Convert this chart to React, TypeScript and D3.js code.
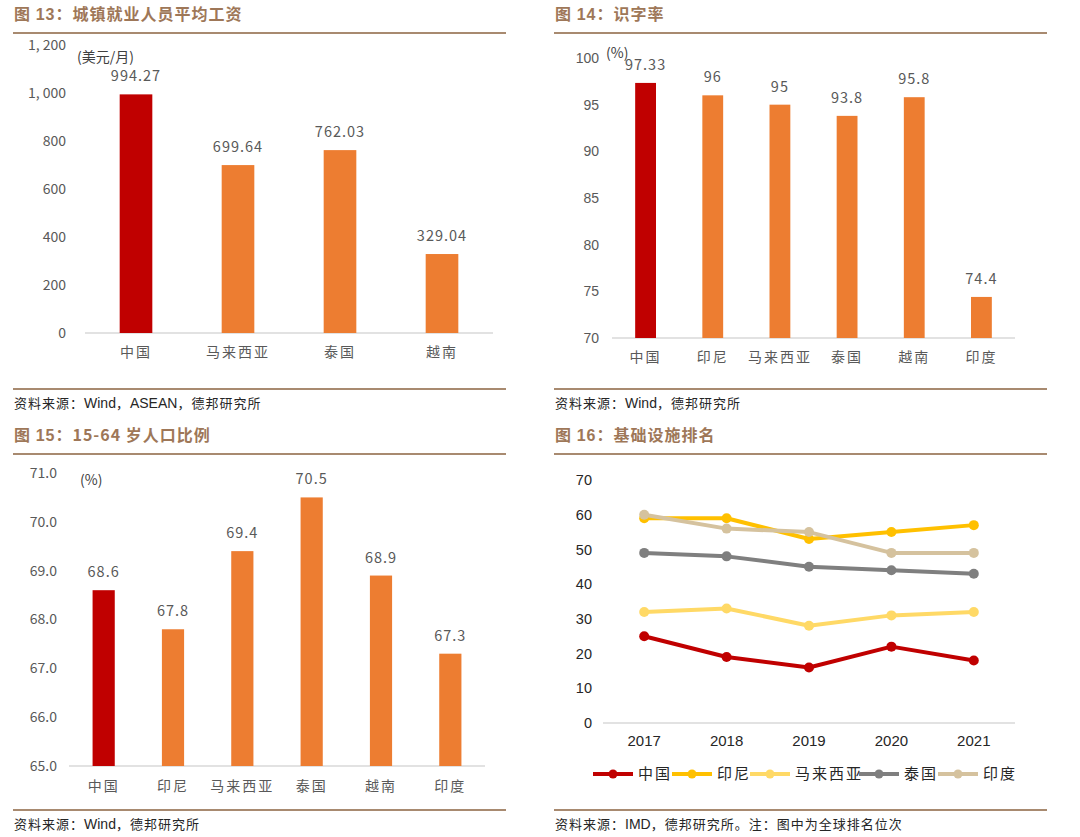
import React from "react";
import * as d3 from "d3";

// ---------- DATA ----------
const wageCats = ["中国", "马来西亚", "泰国", "越南"];
const wageVals = [994.27, 699.64, 762.03, 329.04];
const wageTicks = [0, 200, 400, 600, 800, 1000, 1200];

const litCats = ["中国", "印尼", "马来西亚", "泰国", "越南", "印度"];
const litVals = [97.33, 96, 95, 93.8, 95.8, 74.4];
const litLabels = ["97.33", "96", "95", "93.8", "95.8", "74.4"];
const litTicks = [70, 75, 80, 85, 90, 95, 100];

const popCats = ["中国", "印尼", "马来西亚", "泰国", "越南", "印度"];
const popVals = [68.6, 67.8, 69.4, 70.5, 68.9, 67.3];
const popTicks = [65, 66, 67, 68, 69, 70, 71];

const years = ["2017", "2018", "2019", "2020", "2021"];
const infraTicks = [0, 10, 20, 30, 40, 50, 60, 70];
const seriesNames = ["中国", "印尼", "马来西亚", "泰国", "印度"];
const chinaRank = [25, 19, 16, 22, 18];
const indonesiaRank = [59, 59, 53, 55, 57];
const malaysiaRank = [32, 33, 28, 31, 32];
const thailandRank = [49, 48, 45, 44, 43];
const indiaRank = [60, 56, 55, 49, 49];

// ---------- STYLE ----------
const RED = "#C00000";
const ORANGE = "#ED7D31";
const TITLE = "#9E7758";
const RULE = "#A88A70";
const GRAY = "#595959";
const CJK = "'Noto Sans CJK SC', 'Noto Sans', sans-serif";
const ARIAL = "'Liberation Sans', Arial, sans-serif";
const seriesColors = [RED, "#FFC000", "#FFD966", "#7F7F7F", "#D5C29E"];

type BarProps = {
  cats: string[];
  vals: number[];
  labels: string[];
  ticks: number[];
  tickFmt: (v: number) => string;
  tickFont: string;
  x0: number;
  x1: number;
  yBase: number;
  yTop: number;
  tickX: number;
  unit: string;
  unitX: number;
  unitY: number;
  catY: number;
  barFrac: number;
};

function BarPanel(p: BarProps) {
  const x = d3.scaleBand<string>().domain(p.cats).range([p.x0, p.x1]).paddingInner(1 - p.barFrac).paddingOuter((1 - p.barFrac) / 2);
  const y = d3.scaleLinear().domain([p.ticks[0], p.ticks[p.ticks.length - 1]]).range([p.yBase, p.yTop]);
  return (
    <g>
      <line x1={p.x0} x2={p.x1} y1={p.yBase} y2={p.yBase} stroke="#D9D9D9" strokeWidth={1.5} />
      {p.ticks.map((t) => (
        <text key={t} x={p.tickX} y={y(t)} dy="0.35em" textAnchor="end" fontFamily={p.tickFont} fontSize={14} fill={GRAY}>
          {p.tickFmt(t)}
        </text>
      ))}
      <text x={p.unitX} y={p.unitY} fontFamily={CJK} fontSize={14} fill="#404040">{p.unit}</text>
      {p.cats.map((c, i) => (
        <g key={c}>
          <rect x={x(c)!} y={y(p.vals[i])} width={x.bandwidth()} height={p.yBase - y(p.vals[i])} fill={i === 0 ? RED : ORANGE} />
          <text x={x(c)! + x.bandwidth() / 2} y={y(p.vals[i]) - 13} textAnchor="middle" fontFamily={CJK} fontSize={14.5} fill={GRAY} letterSpacing={1}>
            {p.labels[i]}
          </text>
          <text x={x(c)! + x.bandwidth() / 2} y={p.catY} textAnchor="middle" fontFamily={CJK} fontSize={14} fill={GRAY} letterSpacing={2}>
            {c}
          </text>
        </g>
      ))}
    </g>
  );
}

function Header({ x, x2, num, title, y }: { x: number; x2: number; num: string; title: string; y: number }) {
  return (
    <g>
      <text x={x} y={y} fontFamily={CJK} fontWeight={700} fontSize={16} fill={TITLE} letterSpacing={1}>
        图 <tspan fontFamily={ARIAL}>{num}</tspan>：{title}
      </text>
      <line x1={x - 1} x2={x2} y1={y + 13} y2={y + 13} stroke={RULE} strokeWidth={2} />
    </g>
  );
}

function Source({ x, x2, y, latin, rest }: { x: number; x2: number; y: number; latin: string[]; rest: string }) {
  return (
    <g>
      <line x1={x - 1} x2={x2} y1={y - 19} y2={y - 19} stroke={RULE} strokeWidth={2} />
      <text x={x} y={y} fontFamily={CJK} fontSize={13} fill="#262626" letterSpacing={1}>
        资料来源：
        {latin.map((l, i) => (
          <React.Fragment key={i}>
            <tspan fontFamily={ARIAL} fontSize={14} letterSpacing={0}>{l}</tspan>
            <tspan>，</tspan>
          </React.Fragment>
        ))}
        {rest}
      </text>
    </g>
  );
}

function LinePanel() {
  const x0 = 603, x1 = 1015, yBase = 723, yTop = 480;
  const x = d3.scalePoint<string>().domain(years).range([x0, x1]).padding(0.5);
  const y = d3.scaleLinear().domain([0, 70]).range([yBase, yTop]);
  const all = [chinaRank, indonesiaRank, malaysiaRank, thailandRank, indiaRank];
  const line = d3.line<number>().x((_, i) => x(years[i])!).y((d) => y(d));
  const order = [2, 0, 3, 1, 4];
  const legendX = [593, 672, 750, 859, 938];
  return (
    <g>
      <line x1={x0} x2={x1} y1={yBase} y2={yBase} stroke="#D9D9D9" strokeWidth={1.5} />
      {infraTicks.map((t) => (
        <text key={t} x={592} y={y(t)} dy="0.35em" textAnchor="end" fontFamily={ARIAL} fontSize={14.5} fill="#262626">
          {t}
        </text>
      ))}
      {years.map((yr) => (
        <text key={yr} x={x(yr)!} y={746} textAnchor="middle" fontFamily={ARIAL} fontSize={15} fill="#262626">
          {yr}
        </text>
      ))}
      {order.map((si) => (
        <g key={si}>
          <path d={line(all[si])!} fill="none" stroke={seriesColors[si]} strokeWidth={4} strokeLinejoin="round" />
          {all[si].map((v, i) => (
            <circle key={i} cx={x(years[i])!} cy={y(v)} r={5} fill={seriesColors[si]} />
          ))}
        </g>
      ))}
      {seriesNames.map((n, i) => (
        <g key={n}>
          <line x1={legendX[i]} x2={legendX[i] + 40} y1={774} y2={774} stroke={seriesColors[i]} strokeWidth={4} />
          <circle cx={legendX[i] + 20} cy={774} r={4.5} fill={seriesColors[i]} />
          <text x={legendX[i] + 45} y={774} dy="0.35em" fontFamily={CJK} fontSize={15} fill="#262626" letterSpacing={2}>
            {n}
          </text>
        </g>
      ))}
    </g>
  );
}

export default function App() {
  const fmtComma = (v: number) => d3.format(",")(v).replace(",", ", ");
  return (
    <svg width={1080} height={837} style={{ position: "absolute", left: 0, top: 0, background: "#fff" }}>
      <rect width={1080} height={837} fill="#fff" />
      {/* Panel 13 */}
      <Header x={14} x2={506} y={20} num="13" title="城镇就业人员平均工资" />
      <BarPanel
        cats={wageCats} vals={wageVals} labels={wageVals.map((v) => v.toFixed(2))}
        ticks={wageTicks} tickFmt={fmtComma} tickFont={CJK}
        x0={85} x1={493} yBase={333} yTop={45} tickX={66}
        unit="(美元/月)" unitX={77} unitY={62} catY={357} barFrac={0.32}
      />
      <Source x={14} x2={506} y={408} latin={["Wind", "ASEAN"]} rest="德邦研究所" />

      {/* Panel 14 */}
      <Header x={555} x2={1047} y={20} num="14" title="识字率" />
      <BarPanel
        cats={litCats} vals={litVals} labels={litLabels}
        ticks={litTicks} tickFmt={(v) => String(v)} tickFont={ARIAL}
        x0={612} x1={1015} yBase={338} yTop={58} tickX={599}
        unit="(%)" unitX={606} unitY={58} catY={362} barFrac={0.31}
      />
      <Source x={555} x2={1047} y={408} latin={["Wind"]} rest="德邦研究所" />

      {/* Panel 15 */}
      <Header x={14} x2={506} y={441} num="15" title="15-64 岁人口比例" />
      <BarPanel
        cats={popCats} vals={popVals} labels={popVals.map((v) => v.toFixed(1))}
        ticks={popTicks} tickFmt={(v) => v.toFixed(1)} tickFont={CJK}
        x0={69} x1={485} yBase={766} yTop={473} tickX={57}
        unit="(%)" unitX={80} unitY={485} catY={791} barFrac={0.32}
      />
      <Source x={14} x2={506} y={829} latin={["Wind"]} rest="德邦研究所" />

      {/* Panel 16 */}
      <Header x={555} x2={1047} y={441} num="16" title="基础设施排名" />
      <LinePanel />
      <Source x={555} x2={1047} y={829} latin={["IMD"]} rest="德邦研究所。注：图中为全球排名位次" />
    </svg>
  );
}
